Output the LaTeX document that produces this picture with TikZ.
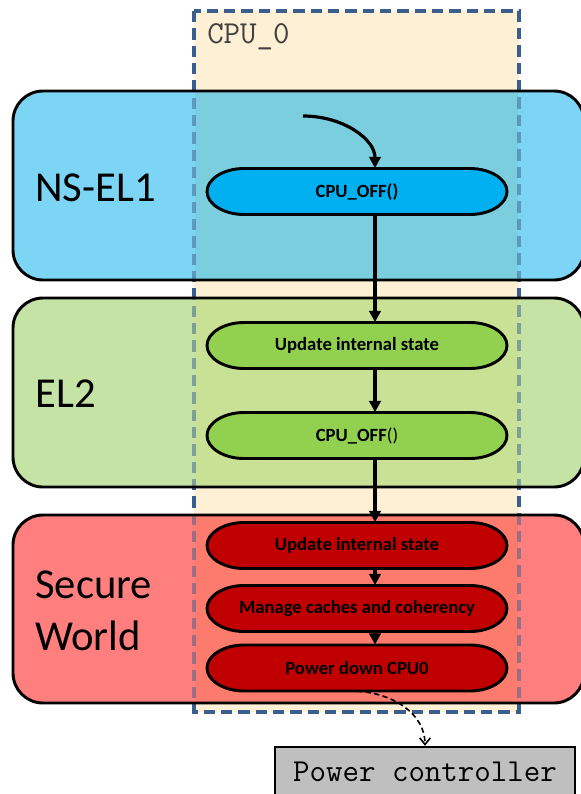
\documentclass[tikz,border=0pt]{standalone}
\usepackage{fontspec}
\setmainfont{Carlito}
\usetikzlibrary{arrows.meta}

\definecolor{cpufill}{HTML}{FDF0D5}
\definecolor{cpuedge}{HTML}{3A5F8C}
\definecolor{nsout}{HTML}{7DD5F5}
\definecolor{nsin}{HTML}{7BCEDE}
\definecolor{elout}{HTML}{C6E3A6}
\definecolor{elin}{HTML}{C9E194}
\definecolor{swout}{HTML}{FF7F7F}
\definecolor{swin}{HTML}{FD7B6D}
\definecolor{pillblue}{HTML}{00B0F0}
\definecolor{pillgreen}{HTML}{92D050}
\definecolor{pillred}{HTML}{C00000}
\definecolor{pcgrey}{HTML}{BFBFBF}
\definecolor{labelgrey}{HTML}{404040}

% exception-level band: top, bottom, colour outside the CPU column, colour inside it
\newcommand\levelband[4]{%
  \fill[#3, rounded corners=22.5pt] (13,#1) rectangle (584,#2);
  \fill[#4] (195,#1) rectangle (518,#2);
}
% outline of a band, drawn after the CPU column border
\newcommand\bandedge[2]{%
  \draw[bandline, rounded corners=22.5pt] (13,#1) rectangle (584,#2);
}
% flow step: name, centre y, fill colour, font, text
\newcommand\flowstep[5]{%
  \filldraw[pilledge, fill=#3]
    (244,#2-23) -- (470,#2-23)
    .. controls (490,#2-23) and (507,#2-12.7) .. (507,#2)
    .. controls (507,#2+12.7) and (490,#2+23) .. (470,#2+23)
    -- (244,#2+23)
    .. controls (224,#2+23) and (207,#2+12.7) .. (207,#2)
    .. controls (207,#2-12.7) and (224,#2-23) .. cycle;
  \node[steptext, font=#4] (#1) at (357,#2) {#5};
}

\begin{document}
\begin{tikzpicture}[x=0.75pt, y=-0.75pt,
  bandline/.style={line width=2.2pt, draw=black},
  pilledge/.style={line width=2.2pt, draw=black},
  steptext/.style={minimum width=225pt, minimum height=34.5pt, inner sep=0pt, text=black},
  cpuborder/.style={draw=cpuedge, line width=2.5pt, dash pattern=on 8.5pt off 4.5pt},
  flow/.style={line width=2.4pt, -{Triangle[width=8.5pt,length=8.5pt]}},
  signal/.style={line width=1.2pt, dash pattern=on 4pt off 2.5pt, -{Straight Barb[width=8pt,length=5pt,line width=1.2pt]}},
  bandlabel/.style={anchor=west, inner sep=0pt, font=\fontsize{32}{39}\selectfont, align=left},
  codetext/.style={font=\ttfamily\fontsize{24}{28}\selectfont},
]
\useasboundingbox (0,0) rectangle (581,794);

% CPU column behind everything
\fill[cpufill] (194,11) rectangle (519,712);
\draw[cpuborder] (194,11) rectangle (519,712);
\node[anchor=base west, inner sep=0pt, text=labelgrey, codetext] (cpulabel) at (207,43) {CPU\_0};

% exception-level bands
\levelband{91}{280}{nsout}{nsin}
\levelband{298}{487}{elout}{elin}
\levelband{515}{703}{swout}{swin}

% column border seen through the bands
\draw[cpuborder, draw opacity=0.5] (194,11) rectangle (519,712);

\bandedge{91}{280}
\bandedge{298}{487}
\bandedge{515}{703}

\node[bandlabel] (nsel1) at (35,188) {NS-EL1};
\node[bandlabel] (el2) at (35,394) {EL2};
\node[bandlabel] (secure) at (35,611) {Secure\\World};

% flow steps
\flowstep{nsoff}{191.5}{pillblue}{\fontsize{14}{17}\selectfont\bfseries}{CPU\_OFF()}
\flowstep{elupdate}{345.5}{pillgreen}{\fontsize{14}{17}\selectfont\bfseries}{Update internal state}
\flowstep{eloff}{435.5}{pillgreen}{\fontsize{14}{17}\selectfont}{\textbf{CPU\_OFF}()}
\flowstep{swupdate}{545.5}{pillred}{\fontsize{14}{17}\selectfont\bfseries}{Update internal state}
\flowstep{swcache}{608.5}{pillred}{\fontsize{14}{17}\selectfont\bfseries}{Manage caches and coherency}
\flowstep{swdown}{668}{pillred}{\fontsize{14}{17}\selectfont\bfseries}{Power down CPU0}

% power controller
\node[draw=black, line width=1.8pt, fill=pcgrey, minimum width=225pt, minimum height=37.5pt,
      inner sep=0pt, codetext] (pc) at (425,772) {Power controller};

% connectors
\coordinate (axis) at (375,0);
\coordinate (entry) at (303,116);
\draw[flow] (entry) .. controls (343,116) and (375,139) .. (nsoff.north -| axis);
\draw[flow] (nsoff.south -| axis) -- (elupdate.north -| axis);
\draw[flow] (elupdate.south -| axis) -- (eloff.north -| axis);
\draw[flow] (eloff.south -| axis) -- (swupdate.north -| axis);
\draw[flow] (swupdate.south -| axis) -- (swcache.north -| axis);
\draw[flow] (swcache.south -| axis) -- (swdown.north -| axis);
\draw[signal] (swdown.south) .. controls (392,693) and (425,713) .. (pc.north);
\end{tikzpicture}
\end{document}
